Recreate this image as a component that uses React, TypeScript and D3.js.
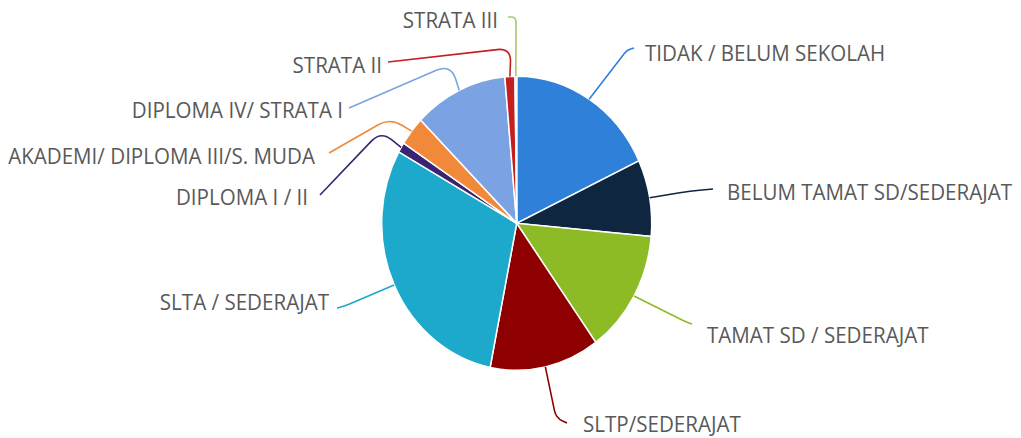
import React from "react";
import * as d3 from "d3";

const categories = [
  "TIDAK / BELUM SEKOLAH",
  "BELUM TAMAT SD/SEDERAJAT",
  "TAMAT SD / SEDERAJAT",
  "SLTP/SEDERAJAT",
  "SLTA / SEDERAJAT",
  "DIPLOMA I / II",
  "AKADEMI/ DIPLOMA III/S. MUDA",
  "DIPLOMA IV/ STRATA I",
  "STRATA II",
  "STRATA III",
];
const values = [18.0, 8.4, 13.6, 13.1, 29.9, 1.1, 3.2, 11.2, 1.2, 0.2];
const colors = [
  "#2F80D9",
  "#0E2640",
  "#8CBB26",
  "#8E0000",
  "#1CA9CC",
  "#3A2370",
  "#F0893A",
  "#7BA3E3",
  "#C41F1F",
  "#A8C96A",
];

// label layout: anchor side, text position (baseline), elbow and end of leader line
const labelLayout = [
  { anchor: "start", tx: 645, ty: 61, elbow: [627, 50], end: [634, 48], r: 8 },
  { anchor: "start", tx: 727, ty: 200, elbow: [690, 191], end: [713, 189], r: 12 },
  { anchor: "start", tx: 707, ty: 343, elbow: [686, 322], end: [692, 324], r: 8 },
  { anchor: "start", tx: 583, ty: 432, elbow: [556, 418], end: [567, 423], r: 10 },
  { anchor: "end", tx: 329, ty: 310, elbow: [345, 306], end: [337, 308], r: 8 },
  { anchor: "end", tx: 308, ty: 205, elbow: [381, 131], end: [320, 195], r: 14 },
  { anchor: "end", tx: 315, ty: 164, elbow: [390, 118], end: [329, 153], r: 14 },
  { anchor: "end", tx: 343, ty: 118, elbow: [451, 64], end: [349, 108], r: 16 },
  { anchor: "end", tx: 382, ty: 73, elbow: [511, 48], end: [388, 62], r: 14 },
  { anchor: "end", tx: 498, ty: 28, elbow: [516, 17], end: [508, 17], r: 8 },
];

const W = 1021;
const H = 438;
const cx = 516.7;
const cy = 223.3;
const ry = 147;
const rx = 135;
const sx = rx / ry;
const textScale = 0.918;

function roundedPath(p0: number[], p1: number[], p2: number[], r: number) {
  const d01 = Math.hypot(p1[0] - p0[0], p1[1] - p0[1]);
  const d12 = Math.hypot(p2[0] - p1[0], p2[1] - p1[1]);
  const rr = Math.min(r, d01 * 0.6, d12 * 0.6);
  const a = [p1[0] + ((p0[0] - p1[0]) / d01) * rr, p1[1] + ((p0[1] - p1[1]) / d01) * rr];
  const b = [p1[0] + ((p2[0] - p1[0]) / d12) * rr, p1[1] + ((p2[1] - p1[1]) / d12) * rr];
  return `M${p0[0]},${p0[1]}L${a[0]},${a[1]}Q${p1[0]},${p1[1]} ${b[0]},${b[1]}L${p2[0]},${p2[1]}`;
}

export default function App() {
  const data = categories.map((c, i) => ({ name: c, value: values[i], color: colors[i] }));
  const pie = d3.pie<any>().value((d) => d.value).sort(null);
  const arcs = pie(data);
  const arc = d3.arc<any>().innerRadius(0).outerRadius(ry);

  return (
    <svg
      width={W}
      height={H}
      style={{ position: "absolute", left: 0, top: 0, background: "#fff" }}
      fontFamily="'Open Sans', sans-serif"
    >
      <rect width={W} height={H} fill="#fff" />
      <g transform={`translate(${cx},${cy}) scale(${sx},1)`}>
        {arcs.map((a, i) => (
          <path
            key={i}
            d={arc(a) as string}
            fill={a.data.color}
            stroke="#fff"
            strokeWidth={1.5}
            vectorEffect="non-scaling-stroke"
          />
        ))}
      </g>
      {arcs.map((a, i) => {
        const mid = (a.startAngle + a.endAngle) / 2;
        const edge = [cx + rx * Math.sin(mid), cy - ry * Math.cos(mid)];
        const L = labelLayout[i];
        return (
          <path
            key={"l" + i}
            d={roundedPath(edge, L.elbow, L.end, L.r)}
            fill="none"
            stroke={a.data.color}
            strokeWidth={1.6}
          />
        );
      })}
      {arcs.map((a, i) => {
        const L = labelLayout[i];
        return (
          <text
            key={"t" + i}
            transform={`translate(${L.tx},${L.ty}) scale(${textScale},1)`}
            textAnchor={L.anchor as any}
            fontSize={22.4}
            fill="#595959"
          >
            {a.data.name}
          </text>
        );
      })}
    </svg>
  );
}
